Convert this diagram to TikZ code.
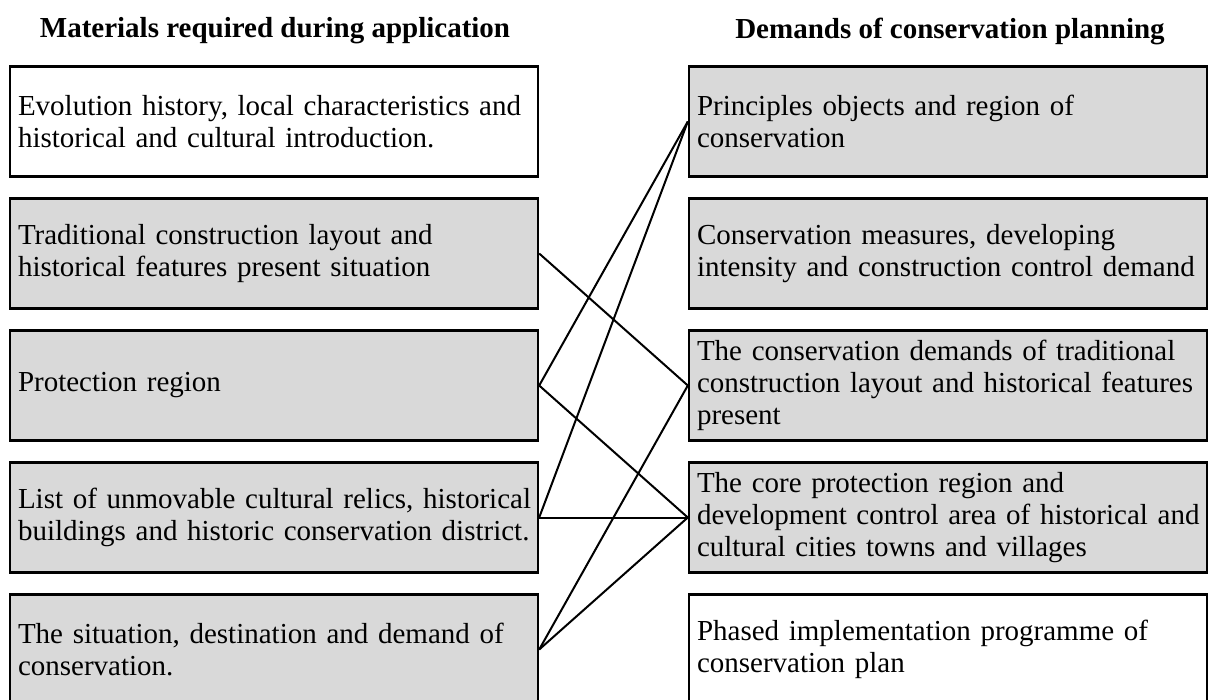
\documentclass[tikz,border=0pt]{standalone}
\usepackage{fontspec}
\setmainfont{Liberation Serif}
\begin{document}
\begin{tikzpicture}[x=1pt,y=-1pt,
  panel/.style={draw=black,line width=2.4pt,minimum width=528pt,minimum height=110pt,
    inner xsep=8pt,inner ysep=0pt,text width=512pt,align=left,
    font=\fontsize{29}{32}\selectfont},
  rpanel/.style={panel,minimum width=518pt,text width=502pt},
  shaded/.style={fill=boxgray},
  heading/.style={font=\fontsize{29}{33}\selectfont\bfseries},
  link/.style={line width=2pt}]
\definecolor{boxgray}{RGB}{217,217,217}
\clip (0,0) rectangle (1209,699);

% column headings
\node[heading] (hl) at (275,31) {Materials required during application};
\node[heading] (hr) at (950,31) {Demands of conservation planning};

% materials column
\node[panel] (l1) at (274,121.5) {Evolution history, local characteristics and\\historical and cultural introduction.};
\node[panel,shaded] (l2) at (274,253.5) {Traditional construction layout and\\historical features present situation};
\node[panel,shaded] (l3) at (274,385.5) {Protection region};
\node[panel,shaded] (l4) at (274,517.5) {\mbox{List of unmovable cultural relics, historical}\\\mbox{buildings and historic conservation district.}};
\node[panel,shaded] (l5) at (274,649.5) {The situation, destination and demand of\\conservation.};

% planning column
\node[rpanel,shaded] (r1) at (948,121.5) {Principles objects and region of\\conservation};
\node[rpanel,shaded] (r2) at (948,253.5) {Conservation measures, developing\\\mbox{intensity and construction control demand}};
\node[rpanel,shaded] (r3) at (948,385.5) {The conservation demands of traditional\\\mbox{construction layout and historical features}\\present};
\node[rpanel,shaded] (r4) at (948,517.5) {The core protection region and\\\mbox{development control area of historical and}\\cultural cities towns and villages};
\node[rpanel] (r5) at (948,649.5) {Phased implementation programme of\\conservation plan};

% correspondences
\draw[link] (l2.east) -- (r3.west);
\draw[link] (l3.east) -- (r1.west);
\draw[link] (l3.east) -- (r4.west);
\draw[link] (l4.east) -- (r1.west);
\draw[link] (l4.east) -- (r4.west);
\draw[link] (l5.east) -- (r3.west);
\draw[link] (l5.east) -- (r4.west);
\end{tikzpicture}
\end{document}
